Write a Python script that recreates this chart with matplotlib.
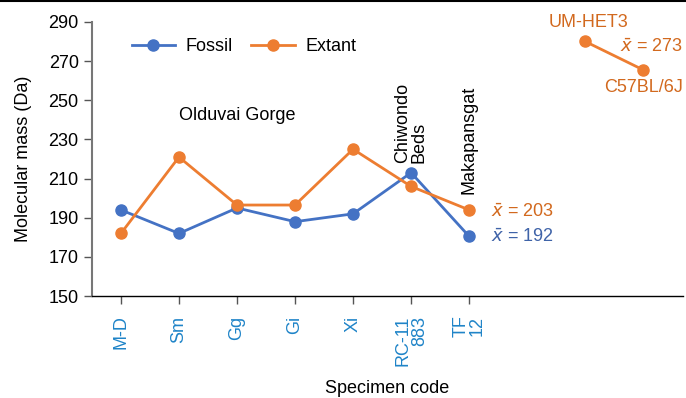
import numpy as np
import matplotlib.pyplot as plt

plt.rcParams['font.family'] = ['Liberation Sans', 'DejaVu Sans']

specimens = ['M-D', 'Sm', 'Gg', 'Gi', 'Xi', 'RC-11\n883', 'TF\n12']
fossil = [194, 182, 195, 188, 192, 213, 180.5]
extant = [182, 221, 196.5, 196.5, 225, 206, 194]
mouse_strains = ['UM-HET3', 'C57BL/6J']
mouse_values = [280, 265.5]

blue = '#4472C4'
orange = '#ED7D31'
dark_orange = '#D2691E'
tick_blue = '#1F84C8'
fs = 13

x = np.arange(len(specimens))
xm = np.array([8, 9])

fig = plt.figure(figsize=(6.86, 3.98), dpi=100)
ax = fig.add_axes([0.134, 0.256, 0.862, 0.689])

ax.plot(x, fossil, '-o', color=blue, lw=2, ms=8, label='Fossil')
ax.plot(x, extant, '-o', color=orange, lw=2, ms=8, label='Extant')
ax.plot(xm, mouse_values, '-o', color=orange, lw=2, ms=8)

ax.set_xlim(-0.5, 9.69)
ax.set_ylim(150, 290)
ax.set_yticks(np.arange(150, 291, 20))
ax.set_xticks(x)
ax.set_xticklabels(specimens, rotation=90, color=tick_blue, fontsize=fs,
                   multialignment='right', linespacing=0.95)
ax.tick_params(axis='both', labelsize=fs, length=6, width=1, color='#555555')
ax.tick_params(axis='x', pad=8)

for s in ['top', 'right']:
    ax.spines[s].set_visible(False)
ax.spines['left'].set_color('#777777')
ax.spines['left'].set_linewidth(1.5)
ax.spines['bottom'].set_linewidth(1)

ax.set_ylabel('Molecular mass (Da)', fontsize=fs, labelpad=12)
ax.set_xlabel('Specimen code', fontsize=fs, labelpad=10)

# site labels
ax.text(2, 242, 'Olduvai Gorge', ha='center', va='center', fontsize=fs)
ax.text(5, 218, 'Chiwondo\nBeds', rotation=90, ha='center', va='bottom',
        fontsize=fs, multialignment='left', linespacing=0.95)
ax.text(6, 202, 'Makapansgat', rotation=90, ha='center', va='bottom', fontsize=fs)

# means
ax.text(6.38, 193, r'$\bar{x}$ = 203', color=dark_orange, fontsize=fs, va='center')
ax.text(6.38, 180, r'$\bar{x}$ = 192', color='#3F63A8', fontsize=fs, va='center')
ax.text(8.05, 285.5, mouse_strains[0], color=dark_orange, fontsize=fs, ha='center', va='bottom')
ax.text(9.69, 277, r'$\bar{x}$ = 273', color=dark_orange, fontsize=fs, ha='right', va='center')
ax.text(9.69, 261, mouse_strains[1], color=dark_orange, fontsize=fs, ha='right', va='top')

ax.legend(loc='upper left', bbox_to_anchor=(0.04, 1.0), ncol=2, frameon=False,
          fontsize=fs, handlelength=2.4, columnspacing=1.0, handletextpad=0.6)

# thin frame line along the top of the figure
fig.add_artist(plt.Line2D([0, 1], [0.998, 0.998], color='black', lw=1.5,
                          transform=fig.transFigure))

fig.savefig('out.png', dpi=100)
